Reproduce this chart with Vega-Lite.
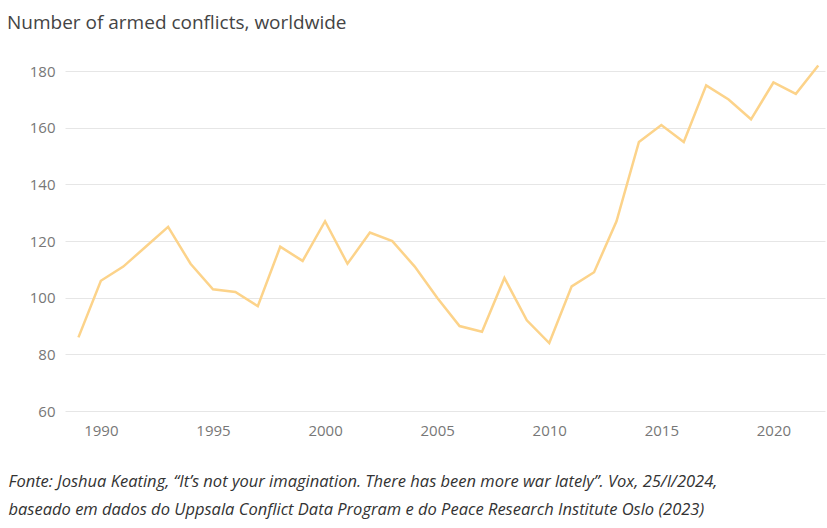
{
  "$schema": "https://vega.github.io/schema/vega-lite/v6.json",
  "width": 760,
  "height": 354,
  "autosize": "none",
  "padding": {"left": 65, "top": 57, "right": 2, "bottom": 117},
  "background": "white",
  "title": {"text": "Number of armed conflicts, worldwide", "anchor": "start", "dx": -1, "offset": 24, "font": "Open Sans", "fontSize": 19, "fontWeight": "normal", "color": "#444"},
  "data": {"values": [
    {"year": 1989, "n": 86}, {"year": 1990, "n": 106}, {"year": 1991, "n": 111}, {"year": 1992, "n": 118},
    {"year": 1993, "n": 125}, {"year": 1994, "n": 112}, {"year": 1995, "n": 103}, {"year": 1996, "n": 102},
    {"year": 1997, "n": 97}, {"year": 1998, "n": 118}, {"year": 1999, "n": 113}, {"year": 2000, "n": 127},
    {"year": 2001, "n": 112}, {"year": 2002, "n": 123}, {"year": 2003, "n": 120}, {"year": 2004, "n": 111},
    {"year": 2005, "n": 100}, {"year": 2006, "n": 90}, {"year": 2007, "n": 88}, {"year": 2008, "n": 107},
    {"year": 2009, "n": 92}, {"year": 2010, "n": 84}, {"year": 2011, "n": 104}, {"year": 2012, "n": 109},
    {"year": 2013, "n": 127}, {"year": 2014, "n": 155}, {"year": 2015, "n": 161}, {"year": 2016, "n": 155},
    {"year": 2017, "n": 175}, {"year": 2018, "n": 170}, {"year": 2019, "n": 163}, {"year": 2020, "n": 176},
    {"year": 2021, "n": 172}, {"year": 2022, "n": 182}
  ]},
  "mark": {"type": "line", "color": "#fcd38a", "strokeWidth": 2.5},
  "encoding": {
    "x": {"field": "year", "type": "quantitative",
      "scale": {"domain": [1988.4, 2022.3], "nice": false, "zero": false},
      "axis": {"values": [1990, 1995, 2000, 2005, 2010, 2015, 2020], "format": "d", "grid": false, "domain": false, "ticks": false,
        "labelFont": "Open Sans", "labelFontSize": 15, "labelColor": "#777", "labelPadding": 12,
        "title": ["Fonte: Joshua Keating, “It’s not your imagination. There has been more war lately”. Vox, 25/I/2024,", "baseado em dados do Uppsala Conflict Data Program e do Peace Research Institute Oslo (2023)"],
        "titleFont": "Source Sans Pro, Open Sans", "titleFontSize": 16.5, "titleFontStyle": "italic", "titleFontWeight": "normal", "titleColor": "#333",
        "titleAlign": "left", "titleAnchor": "start", "titleX": -57, "titleY": 62, "titleBaseline": "top", "titleLineHeight": 28}},
    "y": {"field": "n", "type": "quantitative",
      "scale": {"domain": [60, 185], "nice": false, "zero": false},
      "axis": {"values": [60, 80, 100, 120, 140, 160, 180], "title": null, "domain": false, "ticks": false,
        "labelFont": "Open Sans", "labelFontSize": 15, "labelColor": "#777", "labelPadding": 10,
        "gridColor": "#e6e6e6", "gridWidth": 1}}
  },
  "config": {"view": {"stroke": null}}
}
